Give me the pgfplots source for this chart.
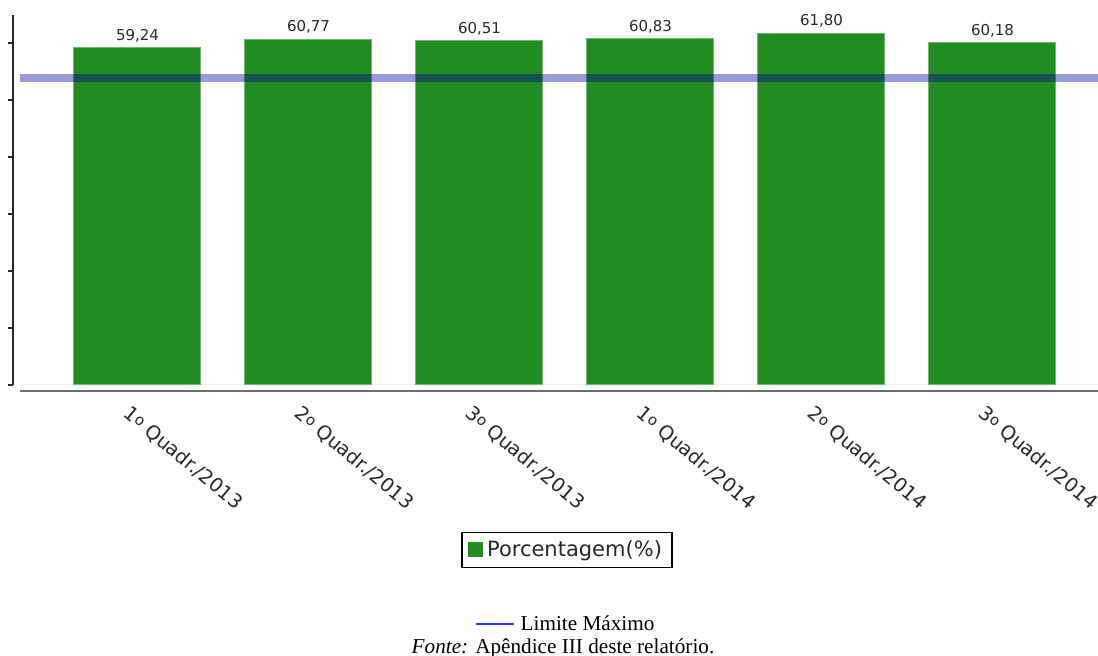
\documentclass[border=0pt]{standalone}
\usepackage{pgfplots}
\pgfplotsset{compat=1.18}
\usepackage{fontspec}
\setmainfont{Liberation Serif}
\newfontfamily\dv{DejaVu Sans}
\definecolor{barg}{RGB}{34,139,34}
\definecolor{baredge}{RGB}{110,185,110}
\definecolor{limblue}{RGB}{0,0,150}
\definecolor{txt}{RGB}{40,40,40}
\definecolor{axgray}{RGB}{110,110,110}
\definecolor{capblue}{RGB}{55,55,255}
\newcommand{\ord}{\raisebox{1.2pt}{\fontsize{7.5}{8}\selectfont o}}
\begin{document}
\begin{tikzpicture}[x=1pt,y=1pt]
\useasboundingbox (0,0) rectangle (549,328);
\begin{axis}[
  at={(6.5pt,135.5pt)}, anchor=south west,
  scale only axis, width=542.5pt, height=185pt,
  xmin=-0.728, xmax=5.617, ymin=0, ymax=65,
  ybar, bar width=63.5pt,
  axis y line*=left, axis x line*=bottom,
  x axis line style={draw=none},
  y axis line style={draw=txt, line width=1pt},
  ytick={0,10,...,60}, yticklabels={},
  ytick style={draw=txt, line width=1pt},
  tick align=outside, major tick length=2.5pt,
  xtick={0,1,2,3,4,5},
  xticklabels={1\ord{} Quadr./2013,2\ord{} Quadr./2013,3\ord{} Quadr./2013,1\ord{} Quadr./2014,2\ord{} Quadr./2014,3\ord{} Quadr./2014},
  xtick style={draw=none},
  xticklabel style={font=\dv\fontsize{9.7}{11}\selectfont, text=txt, rotate=-40, anchor=north west, inner sep=0pt, xshift=2.2pt, yshift=-7pt},
  clip=false,
  legend style={at={(0.5106,-0.4459)}, anchor=center, font=\dv\fontsize{10.5}{12}\selectfont, text=txt, draw=black, line width=0.6pt, inner xsep=3pt, inner ysep=2pt},
  legend image code/.code={\fill[barg] (0pt,-3.5pt) rectangle (7pt,3.5pt);},
]
\draw[gray!12, line width=0.5pt] (axis cs:-0.687,0) -- (axis cs:5.617,0);
\addplot[fill=barg, draw=baredge, line width=0.5pt,
  nodes near coords={\pgfmathprintnumber[fixed,fixed zerofill,precision=2,use comma,assume math mode=true]{\pgfplotspointmeta}},
  nodes near coords style={font=\dv\fontsize{7.5}{9}\selectfont, text=txt, inner sep=0pt, yshift=2.5pt}]
  coordinates {(0,59.24) (1,60.77) (2,60.51) (3,60.83) (4,61.80) (5,60.18)};
\addlegendentry{Porcentagem(\%)}
\addplot[sharp plot, forget plot, draw=limblue, draw opacity=0.4, line width=4pt]
  coordinates {(-0.687,54) (5.617,54)};
\draw[axgray, line width=1pt] (axis cs:-0.687,-1.05) -- (axis cs:5.617,-1.05);
\end{axis}
\node[anchor=base, inner sep=0pt, font=\fontsize{10.6}{12}\selectfont] at (282.5,12.5) {\textcolor{capblue}{\rule[3pt]{19pt}{1pt}}\hspace{3.5pt}Limite Máximo};
\node[anchor=base, inner sep=0pt, font=\fontsize{10.6}{12}\selectfont] at (281.5,1) {\textit{Fonte:} Apêndice III deste relatório.};
\end{tikzpicture}
\end{document}
